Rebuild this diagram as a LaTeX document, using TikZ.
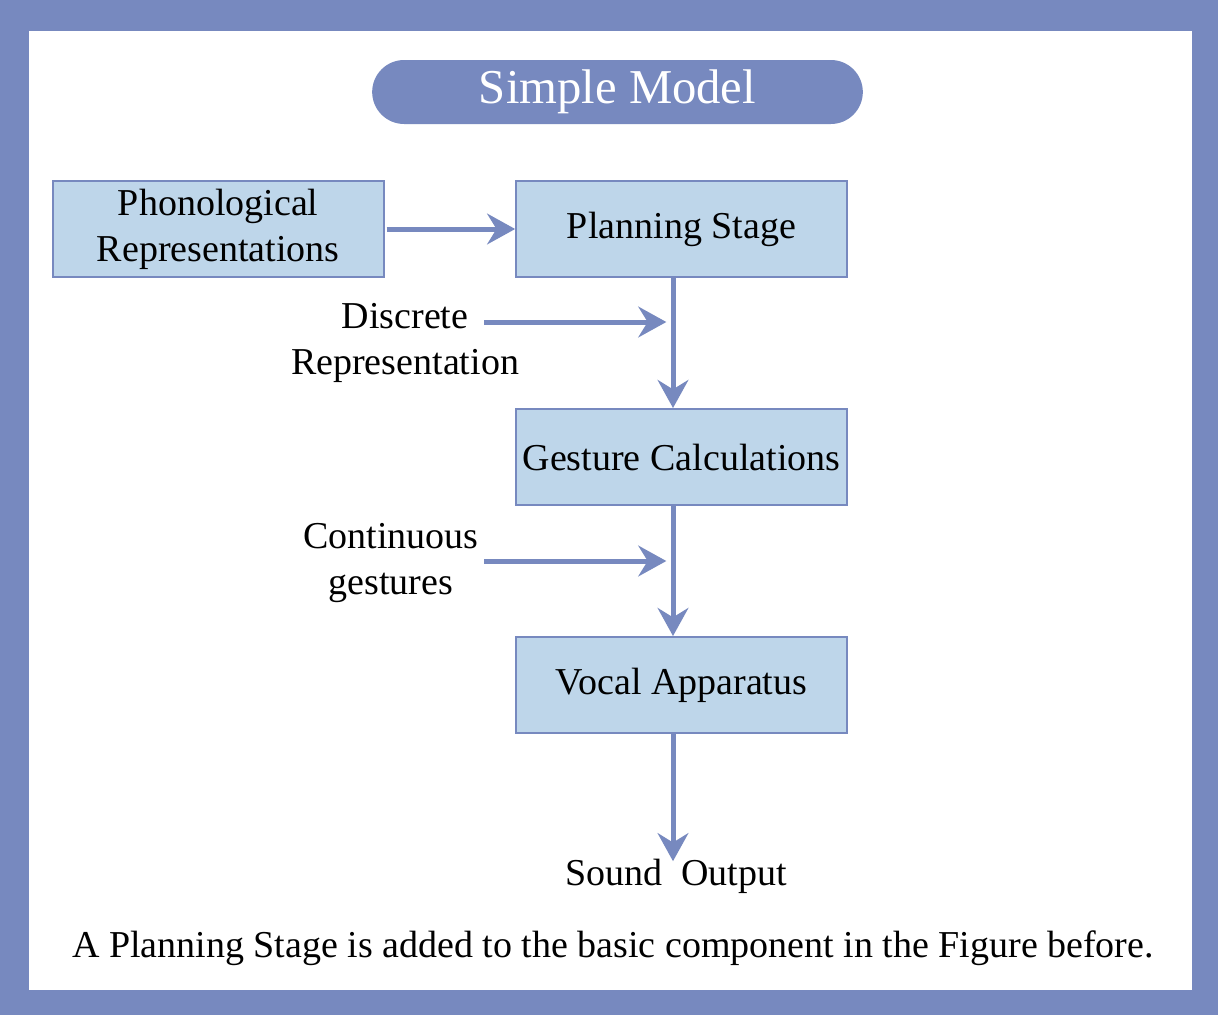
\documentclass[tikz,border=0pt]{standalone}
\usepackage{fontspec}
\setmainfont{Liberation Serif}
\usepackage{xcolor}
\usetikzlibrary{positioning, arrows.meta}
\definecolor{framecol}{HTML}{7789BF}
\definecolor{boxcol}{HTML}{BED6EA}

\begin{document}
\begin{tikzpicture}[x=0.75pt,y=-0.75pt,>={Stealth[length=21pt,width=23pt,inset=7pt]}]
\tikzset{box/.style={draw=framecol,line width=1.5pt,fill=boxcol,align=center,minimum width=248pt,minimum height=72pt,inner sep=2pt,font=\fontsize{28.5}{34.5}\selectfont},
  lbl/.style={align=center,inner sep=0pt,font=\fontsize{28.5}{34.5}\selectfont},
  flow/.style={->,draw=framecol,line width=3.75pt}}
\useasboundingbox (0,0) rectangle (1218,1015);
\fill[framecol] (0,0) rectangle (1218,1015);
\fill[white] (29,31) rectangle (1192,990);
\node[fill=framecol,text=white,rounded corners=24pt,minimum width=368pt,minimum height=48pt,inner sep=0pt,font=\fontsize{36.5}{40}\selectfont] (title) at (617.5,92) {Simple Model};
\node[box] (plan) at (681.5,229) {Planning Stage};
\node[box,left=98pt of plan] (phon) {Phonological\\Representations};
\node[box,below=97.5pt of plan] (gest) {Gesture Calculations};
\node[box,below=97.5pt of gest] (vocal) {Vocal Apparatus};
\node[lbl] (sound) at (676,876) {Sound\ \ Output};
\node[lbl] (disc) at (405,343) {Discrete\\Representation};
\node[lbl] (cont) at (391,563) {Continuous\\gestures};
\node[lbl] (caption) at (613,948) {A Planning Stage is added to the basic component in the Figure before.};
\coordinate (spine) at (673,0);
\coordinate (d1) at (484,322);
\coordinate (c1) at (484,561);
\draw[flow,shorten <=1.5pt] (phon) -- (plan);
\draw[flow] (plan.south -| spine) -- (gest.north -| spine);
\draw[flow] (gest.south -| spine) -- (vocal.north -| spine);
\draw[flow] (vocal.south -| spine) -- ([yshift=-2pt]sound.north -| spine);
\draw[flow,shorten >=5pt] (d1) -- (d1 -| spine);
\draw[flow,shorten >=5pt] (c1) -- (c1 -| spine);
\end{tikzpicture}
\end{document}
